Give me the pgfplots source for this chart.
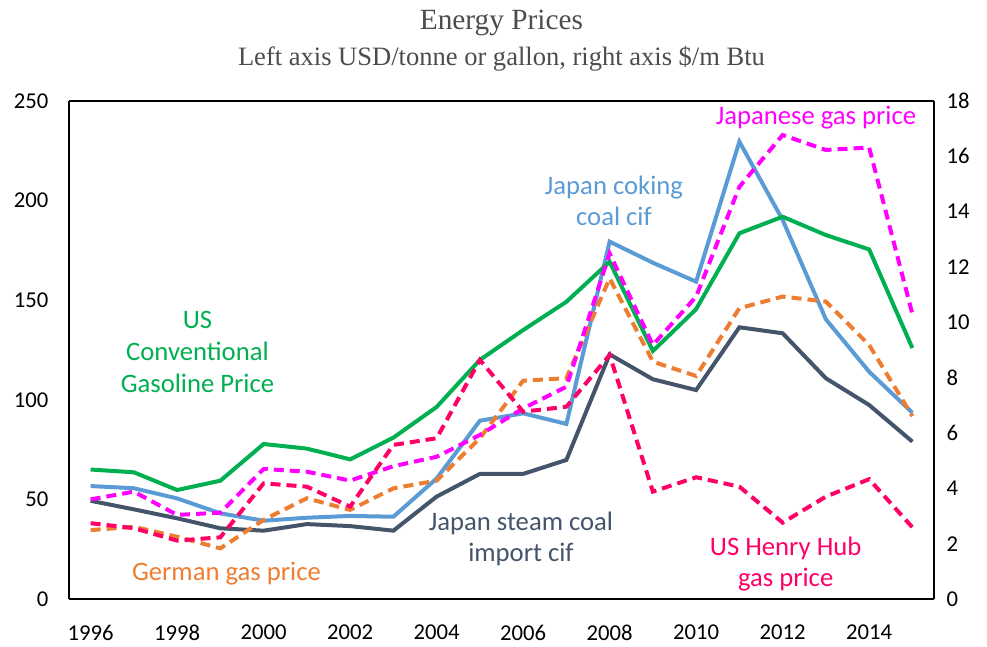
\documentclass[border=0pt]{standalone}
\usepackage{pgfplots}
\pgfplotsset{compat=1.18}
\usepackage{fontspec}
\setmainfont{Carlito}
\newfontfamily\timesfont{Liberation Serif}

\definecolor{cgas}{HTML}{00B050}
\definecolor{ccoke}{HTML}{5B9BD5}
\definecolor{csteam}{HTML}{44546A}
\definecolor{cjpgas}{HTML}{FF00FF}
\definecolor{cdegas}{HTML}{ED7D31}
\definecolor{chh}{HTML}{FF0066}

% left axis series (USD/tonne or gallon)
\pgfplotstableread{
year gasoline coking steam
1996 65.0 56.7 49.3
1997 63.6 55.6 45.0
1998 54.7 50.5 40.5
1999 59.4 43.0 35.5
2000 77.8 39.3 34.3
2001 75.5 40.8 37.6
2002 70.1 41.7 36.6
2003 81.0 41.3 34.3
2004 96.4 60.5 51.4
2005 120.0 89.5 62.8
2006 135.0 93.2 62.8
2007 149.2 87.9 69.8
2008 169.3 179.4 122.8
2009 124.5 168.8 110.3
2010 145.5 159.3 104.9
2011 183.6 229.6 136.4
2012 191.9 190.3 133.4
2013 182.7 140.4 110.8
2014 175.5 114.1 97.4
2015 126.0 93.5 79.0
}\lefttable

% right axis series ($/m Btu)
\pgfplotstableread{
year jpgas degas hh
1996 3.60 2.49 2.74
1997 3.88 2.61 2.56
1998 3.04 2.25 2.11
1999 3.12 1.83 2.23
2000 4.70 2.86 4.18
2001 4.60 3.64 4.06
2002 4.28 3.22 3.34
2003 4.80 4.00 5.57
2004 5.14 4.28 5.81
2005 5.93 5.81 8.64
2006 6.89 7.89 6.77
2007 7.67 7.98 6.95
2008 12.49 11.59 8.82
2009 9.18 8.58 3.88
2010 10.93 8.06 4.40
2011 14.90 10.51 4.06
2012 16.77 10.93 2.76
2013 16.23 10.75 3.70
2014 16.32 9.18 4.33
2015 10.30 6.61 2.59
}\righttable

\begin{document}
\begin{tikzpicture}
\path[use as bounding box] (0,0) rectangle (740.25pt,484.5pt);

\node[font=\timesfont\fontsize{22}{26}\selectfont, text=black!70] at (376.1pt,467.5pt) {Energy Prices};
\node[font=\timesfont\fontsize{19.9}{23}\selectfont, text=black!70] at (376.1pt,440.5pt) {Left axis USD/tonne or gallon, right axis \$/m Btu};

\pgfplotsset{
  every axis/.append style={
    scale only axis, width=648.75pt, height=373.5pt,
    at={(51.75pt,35.25pt)}, anchor=south west,
    xmin=1995.5, xmax=2015.5,
    major tick length=0pt,
    tick label style={font=\fontsize{17}{20}\selectfont},
    /pgf/number format/assume math mode=true,
    clip=false,
  },
}

\begin{axis}[
  ymin=0, ymax=250,
  ytick={0,50,...,250},
  xtick={1996,1998,...,2014},
  xticklabel style={/pgf/number format/1000 sep={}, yshift=-16pt},
  yticklabel style={xshift=-12pt},
  axis line style={line width=2pt},
  axis y line*=left,
  axis x line*=bottom,
  separate axis lines,
]
\addplot[ccoke, line width=3pt] table[x=year, y=coking] {\lefttable};
\addplot[csteam, line width=3pt] table[x=year, y=steam] {\lefttable};
\addplot[cgas, line width=3pt] table[x=year, y=gasoline] {\lefttable};

\node[cgas, align=center, font=\fontsize{20}{24}\selectfont] at (axis cs:1998.47,124) {US\\Conventional\\Gasoline Price};
\node[cdegas, font=\fontsize{20}{24}\selectfont] at (axis cs:1999.14,12.5) {German gas price};
\node[csteam, align=center, font=\fontsize{20}{23.3}\selectfont] at (axis cs:2005.95,30) {Japan steam coal\\import cif};
\node[ccoke, align=center, font=\fontsize{20}{23.3}\selectfont] at (axis cs:2008.1,200) {Japan coking\\coal cif};
\node[cjpgas, font=\fontsize{20}{24}\selectfont] at (axis cs:2012.77,241.5) {Japanese gas price};
\node[chh, align=center, font=\fontsize{20}{23.3}\selectfont] at (axis cs:2012.07,17.5) {US Henry Hub\\gas price};
\end{axis}

\begin{axis}[
  ymin=0, ymax=18,
  ytick={0,2,...,18},
  axis x line=none,
  axis y line*=right,
  yticklabel style={xshift=6pt},
  axis line style={line width=2pt},
]
\addplot[cdegas, line width=3pt, dash pattern=on 7.5pt off 4.5pt] table[x=year, y=degas] {\righttable};
\addplot[cjpgas, line width=3pt, dash pattern=on 7.5pt off 4.5pt] table[x=year, y=jpgas] {\righttable};
\addplot[chh, line width=3pt, dash pattern=on 7.5pt off 4.5pt] table[x=year, y=hh] {\righttable};
\end{axis}

% top edge of the frame
\draw[line width=2pt] (51.75pt,408.75pt) -- (700.5pt,408.75pt);
\end{tikzpicture}
\end{document}
